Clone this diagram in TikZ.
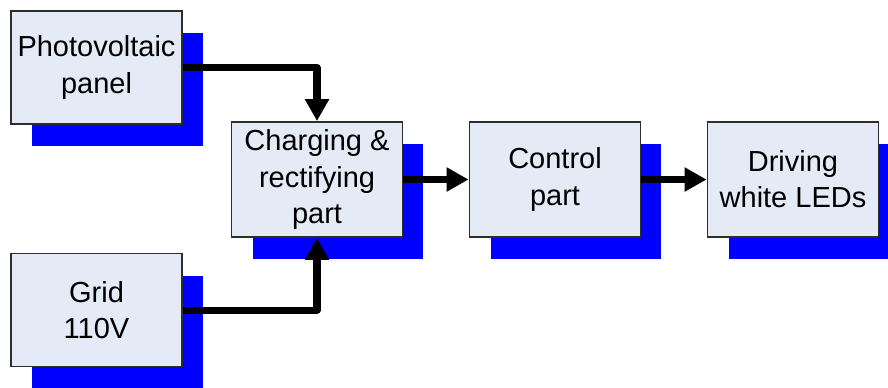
\documentclass[tikz,border=0pt]{standalone}
\usepackage{fontspec}
\setmainfont{Liberation Sans}
\usepackage{xcolor}
\definecolor{boxfill}{RGB}{228, 235, 246}
\definecolor{boxline}{RGB}{45, 45, 45}
\definecolor{shadeblue}{RGB}{0, 0, 255}
\usetikzlibrary{
  arrows.meta,
  shadows
}

\begin{document}
\begin{tikzpicture}[x=0.02cm, y=-0.02cm,
  block/.style={rectangle, draw=boxline, line width=1.1pt, fill=boxfill,
    minimum width=3.42cm, minimum height=2.26cm, inner sep=0pt, align=center,
    font=\fontsize{16.5}{20.5}\selectfont,
    general shadow={fill=shadeblue, shadow xshift=0.42cm, shadow yshift=-0.44cm}},
  flow/.style={line width=4pt, line join=round, -{Triangle[length=0.44cm, width=0.46cm]}}]
  \useasboundingbox (0, 0) rectangle (888, 387);

  % sources on the left
  \node[block] (pv) at (96.5, 67.5) {Photovoltaic\\panel};
  \node[block] (grid) at (96.5, 310) {Grid\\110V};

  % main chain
  \node[block, minimum height=2.3cm] (chg) at (317, 179.5) {Charging \&\\rectifying\\part};
  \node[block, minimum height=2.3cm] (ctl) at (555, 179.5) {Control\\part};
  \node[block, minimum height=2.3cm] (led) at (793, 179.5) {Driving\\white LEDs};

  % connections
  \draw[flow] (pv.east) -| (chg.north);
  \draw[flow] (grid.east) -| (chg.south);
  \draw[flow] (chg.east) -- (ctl.west);
  \draw[flow] (ctl.east) -- (led.west);

\end{tikzpicture}
\end{document}
